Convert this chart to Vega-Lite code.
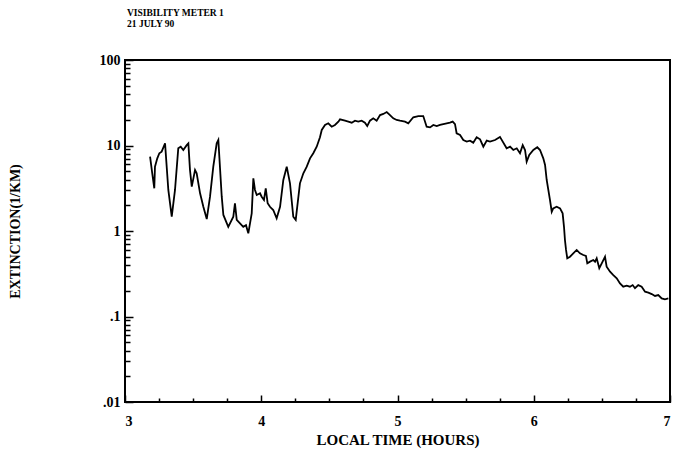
{
  "$schema": "https://vega.github.io/schema/vega-lite/v6.json",
  "width": 545,
  "height": 342,
  "autosize": {"type": "none"},
  "padding": {"left": 125, "top": 60, "right": 3, "bottom": 55},
  "background": "white",
  "config": {
    "view": {"stroke": "black", "strokeWidth": 2},
    "font": "Liberation Serif"
  },
  "title": {
    "text": ["VISIBILITY METER 1", "21 JULY 90"],
    "anchor": "start",
    "frame": "group",
    "font": "Liberation Serif",
    "fontSize": 9.5,
    "fontWeight": "bold",
    "lineHeight": 10.5,
    "offset": 25,
    "dx": 2,
    "color": "black"
  },
  "data": {"values": [
    {"t": 3.184, "v": 7.40}, {"t": 3.200, "v": 4.73}, {"t": 3.215, "v": 3.16}, {"t": 3.220, "v": 5.65},
    {"t": 3.237, "v": 7.08}, {"t": 3.252, "v": 8.11}, {"t": 3.269, "v": 8.46}, {"t": 3.294, "v": 10.6},
    {"t": 3.318, "v": 3.02}, {"t": 3.343, "v": 1.47}, {"t": 3.367, "v": 3.02}, {"t": 3.391, "v": 9.27},
    {"t": 3.409, "v": 9.68}, {"t": 3.428, "v": 8.86}, {"t": 3.453, "v": 10.1}, {"t": 3.465, "v": 10.6},
    {"t": 3.477, "v": 5.17}, {"t": 3.490, "v": 3.30}, {"t": 3.514, "v": 5.17}, {"t": 3.526, "v": 4.73},
    {"t": 3.551, "v": 2.76}, {"t": 3.575, "v": 1.92}, {"t": 3.600, "v": 1.38}, {"t": 3.624, "v": 2.52},
    {"t": 3.648, "v": 5.65}, {"t": 3.673, "v": 10.6}, {"t": 3.685, "v": 11.6}, {"t": 3.710, "v": 2.52},
    {"t": 3.722, "v": 1.54}, {"t": 3.758, "v": 1.12}, {"t": 3.795, "v": 1.47}, {"t": 3.807, "v": 2.11},
    {"t": 3.820, "v": 1.35}, {"t": 3.844, "v": 1.23}, {"t": 3.868, "v": 1.12}, {"t": 3.888, "v": 1.17},
    {"t": 3.905, "v": 0.94}, {"t": 3.930, "v": 1.61}, {"t": 3.942, "v": 4.13}, {"t": 3.954, "v": 3.02},
    {"t": 3.967, "v": 2.64}, {"t": 3.991, "v": 2.76}, {"t": 4.003, "v": 2.52}, {"t": 4.020, "v": 2.31},
    {"t": 4.033, "v": 3.16}, {"t": 4.047, "v": 2.11}, {"t": 4.064, "v": 1.92}, {"t": 4.088, "v": 1.76},
    {"t": 4.113, "v": 1.41}, {"t": 4.138, "v": 1.92}, {"t": 4.162, "v": 3.95}, {"t": 4.187, "v": 5.65},
    {"t": 4.211, "v": 3.61}, {"t": 4.235, "v": 1.47}, {"t": 4.253, "v": 1.35}, {"t": 4.284, "v": 3.61},
    {"t": 4.309, "v": 4.73}, {"t": 4.334, "v": 5.65}, {"t": 4.358, "v": 7.08}, {"t": 4.382, "v": 8.11},
    {"t": 4.407, "v": 9.68}, {"t": 4.431, "v": 12.5}, {"t": 4.444, "v": 15.2}, {"t": 4.468, "v": 17.4},
    {"t": 4.492, "v": 18.2}, {"t": 4.517, "v": 16.6}, {"t": 4.541, "v": 17.4}, {"t": 4.566, "v": 19.0},
    {"t": 4.578, "v": 20.2}, {"t": 4.615, "v": 19.5}, {"t": 4.639, "v": 19.0}, {"t": 4.664, "v": 18.5},
    {"t": 4.688, "v": 19.5}, {"t": 4.712, "v": 19.0}, {"t": 4.737, "v": 19.5}, {"t": 4.761, "v": 18.5},
    {"t": 4.778, "v": 16.9}, {"t": 4.798, "v": 19.5}, {"t": 4.822, "v": 20.8}, {"t": 4.847, "v": 19.5},
    {"t": 4.872, "v": 22.7}, {"t": 4.896, "v": 23.4}, {"t": 4.921, "v": 24.6}, {"t": 4.945, "v": 22.7},
    {"t": 4.969, "v": 20.8}, {"t": 4.994, "v": 19.9}, {"t": 5.018, "v": 19.5}, {"t": 5.055, "v": 19.0},
    {"t": 5.079, "v": 18.2}, {"t": 5.116, "v": 21.4}, {"t": 5.153, "v": 22.1}, {"t": 5.189, "v": 22.1},
    {"t": 5.214, "v": 16.6}, {"t": 5.239, "v": 16.3}, {"t": 5.263, "v": 17.4}, {"t": 5.288, "v": 16.9},
    {"t": 5.312, "v": 17.4}, {"t": 5.336, "v": 17.8}, {"t": 5.361, "v": 18.2}, {"t": 5.385, "v": 18.5},
    {"t": 5.405, "v": 19.0}, {"t": 5.422, "v": 17.8}, {"t": 5.434, "v": 13.9}, {"t": 5.459, "v": 13.3},
    {"t": 5.483, "v": 11.6}, {"t": 5.508, "v": 11.1}, {"t": 5.532, "v": 11.4}, {"t": 5.556, "v": 10.8},
    {"t": 5.581, "v": 12.5}, {"t": 5.606, "v": 11.8}, {"t": 5.630, "v": 9.68}, {"t": 5.655, "v": 11.4},
    {"t": 5.679, "v": 11.1}, {"t": 5.716, "v": 11.6}, {"t": 5.752, "v": 12.6}, {"t": 5.801, "v": 9.27},
    {"t": 5.826, "v": 9.68}, {"t": 5.850, "v": 8.86}, {"t": 5.875, "v": 9.27}, {"t": 5.899, "v": 8.11},
    {"t": 5.919, "v": 10.1}, {"t": 5.936, "v": 8.86}, {"t": 5.948, "v": 6.47}, {"t": 5.967, "v": 7.74},
    {"t": 5.997, "v": 8.86}, {"t": 6.026, "v": 9.53}, {"t": 6.046, "v": 8.86}, {"t": 6.070, "v": 7.08},
    {"t": 6.083, "v": 5.92}, {"t": 6.095, "v": 3.95}, {"t": 6.107, "v": 3.02}, {"t": 6.119, "v": 2.31},
    {"t": 6.132, "v": 1.68}, {"t": 6.143, "v": 1.84}, {"t": 6.168, "v": 1.92}, {"t": 6.193, "v": 1.84},
    {"t": 6.212, "v": 1.61}, {"t": 6.222, "v": 1.12}, {"t": 6.229, "v": 0.785}, {"t": 6.237, "v": 0.600},
    {"t": 6.246, "v": 0.480}, {"t": 6.266, "v": 0.500}, {"t": 6.290, "v": 0.548}, {"t": 6.315, "v": 0.600},
    {"t": 6.339, "v": 0.548}, {"t": 6.364, "v": 0.524}, {"t": 6.383, "v": 0.511}, {"t": 6.393, "v": 0.419},
    {"t": 6.413, "v": 0.438}, {"t": 6.437, "v": 0.458}, {"t": 6.450, "v": 0.438}, {"t": 6.462, "v": 0.480},
    {"t": 6.481, "v": 0.367}, {"t": 6.499, "v": 0.419}, {"t": 6.523, "v": 0.500}, {"t": 6.535, "v": 0.382},
    {"t": 6.560, "v": 0.334}, {"t": 6.584, "v": 0.305}, {"t": 6.609, "v": 0.280}, {"t": 6.633, "v": 0.244},
    {"t": 6.657, "v": 0.223}, {"t": 6.682, "v": 0.229}, {"t": 6.706, "v": 0.223}, {"t": 6.726, "v": 0.233},
    {"t": 6.743, "v": 0.214}, {"t": 6.767, "v": 0.233}, {"t": 6.792, "v": 0.223}, {"t": 6.817, "v": 0.195},
    {"t": 6.841, "v": 0.190}, {"t": 6.866, "v": 0.183}, {"t": 6.890, "v": 0.174}, {"t": 6.914, "v": 0.178},
    {"t": 6.939, "v": 0.163}, {"t": 6.963, "v": 0.159}, {"t": 6.988, "v": 0.163}
  ]},
  "layer": [
    {
      "mark": {"type": "line", "color": "black", "strokeWidth": 1.8},
      "encoding": {
        "x": {
          "field": "t", "type": "quantitative",
          "scale": {"domain": [3, 7], "nice": false, "zero": false},
          "axis": {
            "orient": "bottom",
            "values": [3, 4, 5, 6, 7],
            "grid": false, "domain": false,
            "tickSize": -7, "tickWidth": 1.5, "tickColor": "black",
            "labelPadding": 19,
            "labelFont": "Liberation Serif", "labelFontSize": 14, "labelFontWeight": "bold", "labelColor": "black",
            "title": "LOCAL TIME (HOURS)",
            "titleFont": "Liberation Serif", "titleFontSize": 15, "titleFontWeight": "bold", "titleColor": "black",
            "titlePadding": 4
          }
        },
        "y": {
          "field": "v", "type": "quantitative",
          "scale": {"type": "log", "domain": [0.01, 100], "nice": false},
          "axis": {
            "orient": "left",
            "values": [0.01, 0.1, 1, 10, 100],
            "labelExpr": "datum.value < 0.05 ? '.01' : datum.value < 0.5 ? '.1' : datum.value < 5 ? '1' : datum.value < 50 ? '10' : '100'",
            "grid": false, "domain": false,
            "tickSize": -8, "tickWidth": 1.5, "tickColor": "black",
            "labelPadding": 13,
            "labelFont": "Liberation Serif", "labelFontSize": 14, "labelFontWeight": "bold", "labelColor": "black",
            "title": "EXTINCTION(1/KM)",
            "titleFont": "Liberation Serif", "titleFontSize": 14, "titleFontWeight": "bold", "titleColor": "black",
            "titlePadding": 77
          }
        }
      }
    },
    {
      "mark": {"type": "point", "opacity": 0},
      "encoding": {
        "x": {
          "field": "t", "type": "quantitative",
          "axis": {
            "orient": "bottom",
            "values": [3.25, 3.5, 3.75, 4.25, 4.5, 4.75, 5.25, 5.5, 5.75, 6.25, 6.5, 6.75],
            "grid": false, "domain": false, "labels": false, "title": null,
            "tickSize": -4, "tickWidth": 1.5, "tickColor": "black"
          }
        },
        "y": {
          "field": "v", "type": "quantitative",
          "axis": {
            "orient": "left",
            "values": [0.02, 0.03, 0.04, 0.05, 0.06, 0.07, 0.08, 0.09, 0.2, 0.3, 0.4, 0.5, 0.6, 0.7, 0.8, 0.9, 2, 3, 4, 5, 6, 7, 8, 9, 20, 30, 40, 50, 60, 70, 80, 90],
            "grid": false, "domain": false, "labels": false, "title": null,
            "tickSize": -5, "tickWidth": 1.5, "tickColor": "black"
          }
        }
      }
    }
  ],
  "resolve": {"axis": {"x": "independent", "y": "independent"}}
}
